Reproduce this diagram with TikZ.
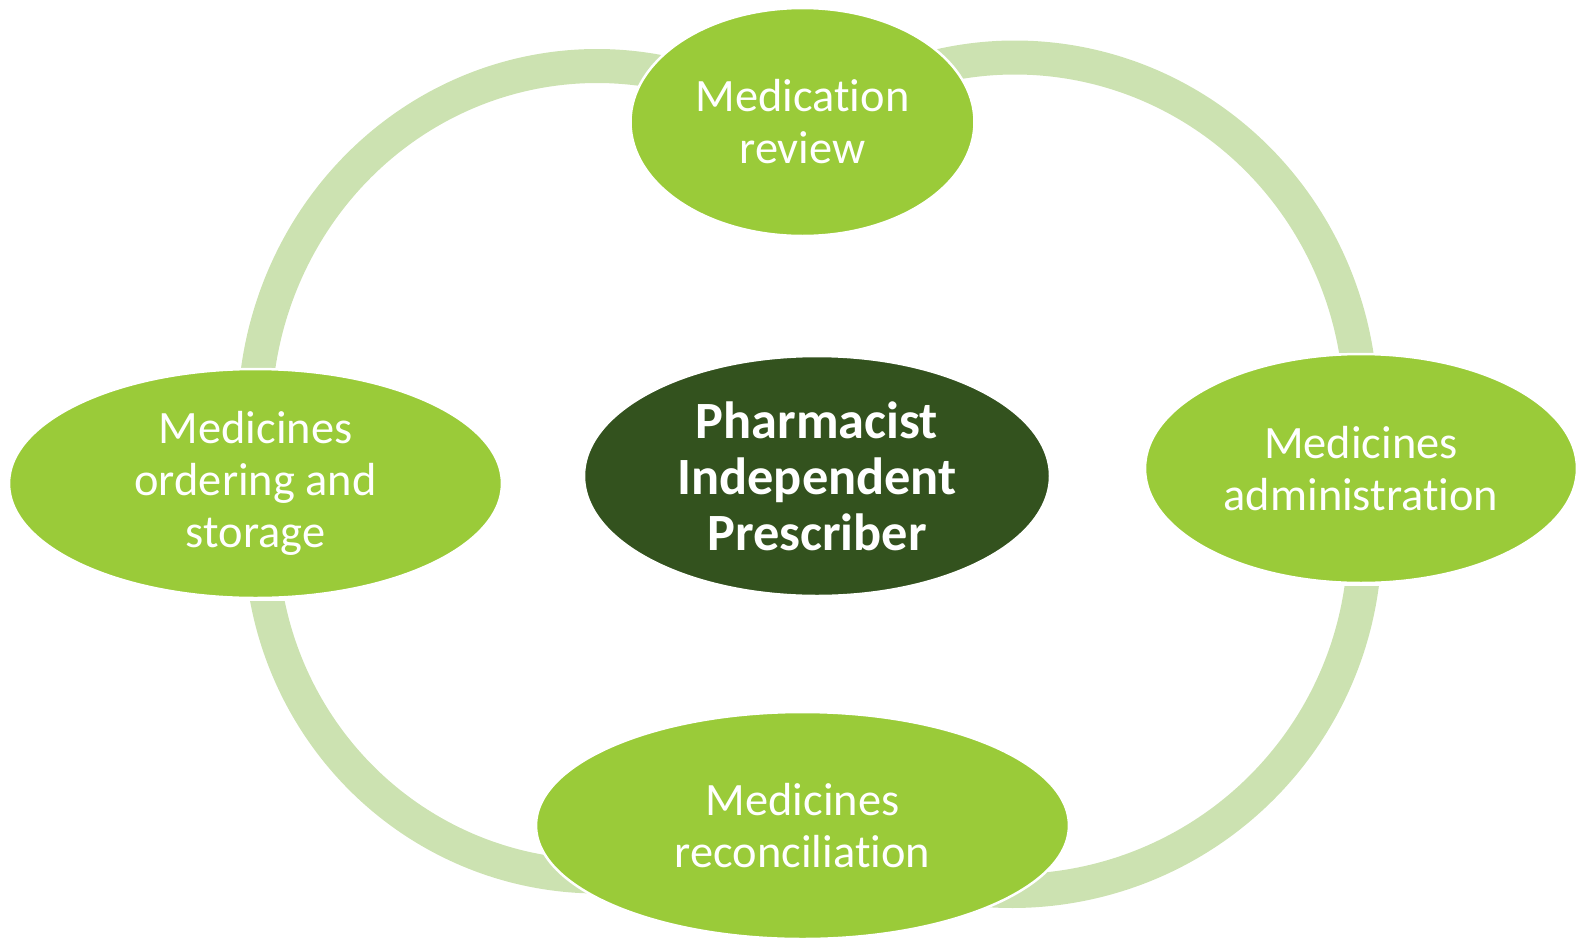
\documentclass[tikz,border=0pt]{standalone}
\usepackage{fontspec}
\setmainfont[Ligatures=NoCommon]{Carlito}
\usetikzlibrary{shapes.geometric}
\definecolor{leafgreen}{RGB}{154,203,57}
\definecolor{darkleaf}{RGB}{51,82,30}
\definecolor{palegreen}{RGB}{204,226,177}
\begin{document}
\begin{tikzpicture}[x=0.1mm,y=0.1mm,
  ring/.style={line width=3.4mm,draw=palegreen},
  task/.style={ellipse,fill=leafgreen,draw=white,line width=0.25mm,inner sep=0pt,
    text=white,align=center,font=\fontsize{13.2}{14.8}\selectfont},
  hub/.style={task,fill=darkleaf,font=\fontsize{14.9}{15.9}\selectfont\bfseries}]
\useasboundingbox (0,0) rectangle (1577,939);
% centres of the four arcs
\coordinate (tl) at (597,519);
\coordinate (tr) at (1015,528);
\coordinate (br) at (1012,401);
\coordinate (bl) at (598,404);
% arcs, cut flat just short of the side ellipses
\begin{scope}
\clip (0,572) rectangle (1577,939);
\draw[ring] (tl) ++(178:34.25mm and 35.4mm) arc[start angle=178,end angle=75,x radius=34.25mm,y radius=35.4mm];
\end{scope}
\begin{scope}
\clip (0,587) rectangle (1577,939);
\draw[ring] (tr) ++(110:34.6mm and 35.35mm) arc[start angle=110,end angle=3,x radius=34.6mm,y radius=35.35mm];
\end{scope}
\begin{scope}
\clip (0,0) rectangle (1577,353);
\draw[ring] (br) ++(-1:35.3mm and 35.3mm) arc[start angle=-1,end angle=-105,x radius=35.3mm,y radius=35.3mm];
\end{scope}
\begin{scope}
\clip (0,0) rectangle (1577,338);
\draw[ring] (bl) ++(185:33.7mm and 34.15mm) arc[start angle=185,end angle=290,x radius=33.7mm,y radius=34.15mm];
\end{scope}
% the ellipses sit on top of the arc ends
\node[task,minimum width=34.4mm,minimum height=22.8mm] (review) at (802.5,817) {Medication\\review};
\node[task,minimum width=49.3mm,minimum height=22.9mm] (ordering) at (255.5,455.5) {Medicines\\ordering and\\storage};
\node[task,minimum width=43.2mm,minimum height=22.9mm] (admin) at (1361,470.5) {Medicines\\administration};
\node[task,minimum width=53.3mm,minimum height=22.7mm] (recon) at (802.5,113.5) {Medicines\\reconciliation};
\node[hub,minimum width=46.6mm,minimum height=24mm] (pip) at (817,463) {Pharmacist\\Independent\\Prescriber};
\end{tikzpicture}
\end{document}
